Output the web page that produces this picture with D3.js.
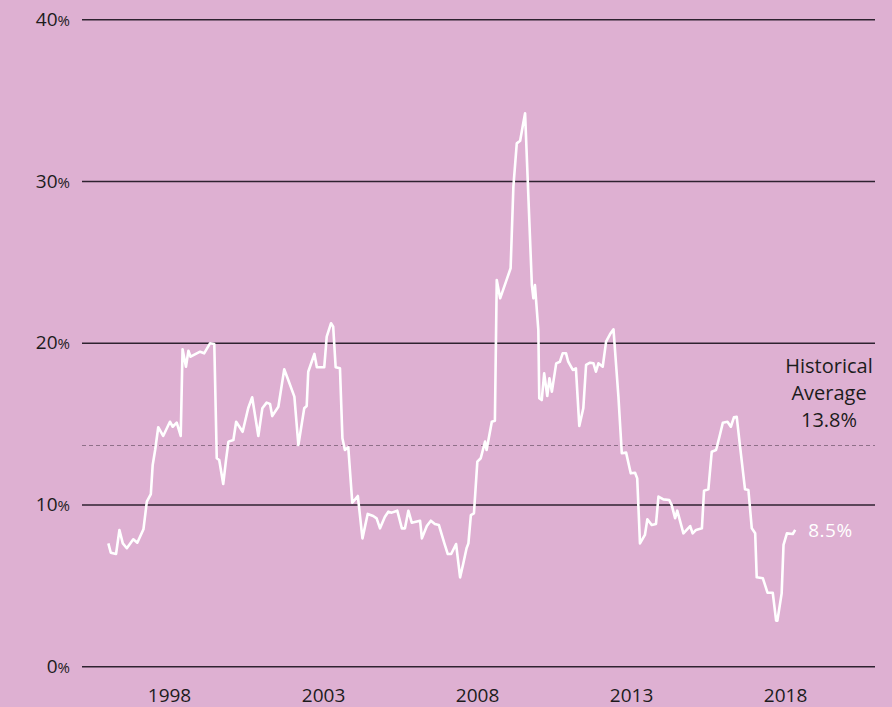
<!DOCTYPE html>
<html>
<head>
<meta charset="utf-8">
<script src="https://cdnjs.cloudflare.com/ajax/libs/d3/7.8.5/d3.min.js"></script>
<style>
  html, body { margin: 0; padding: 0; background: #deb0d2; }
  svg { display: block; }
  svg text { font-family: "Open Sans", "Noto Sans", sans-serif; }
  .grid line { stroke: #2e2230; stroke-width: 1.4; }
  .grid text { fill: #1c1c1c; font-size: 19px; }
  .xaxis text { fill: #1c1c1c; font-size: 19px; }
  .note { fill: #1c1c1c; font-size: 20px; text-anchor: middle; }
</style>
</head>
<body>
<svg class="chart" width="892" height="707"></svg>
<script>
// rate, %, by decimal year
var dates = [
  1996.03, 1996.11, 1996.28, 1996.39, 1996.50, 1996.63, 1996.84, 1996.97, 1997.17, 1997.28,
  1997.41, 1997.47, 1997.55, 1997.65, 1997.81, 1998.03, 1998.12, 1998.25, 1998.38, 1998.44,
  1998.55, 1998.63, 1998.70, 1999.01, 1999.14, 1999.33, 1999.47, 1999.55, 1999.63, 1999.76,
  1999.85, 1999.93, 2000.09, 2000.18, 2000.39, 2000.57, 2000.70, 2000.90, 2001.03, 2001.17,
  2001.28, 2001.35, 2001.55, 2001.74, 2001.85, 2002.07, 2002.20, 2002.39, 2002.47, 2002.52,
  2002.72, 2002.80, 2003.04, 2003.12, 2003.26, 2003.33, 2003.41, 2003.55, 2003.63, 2003.71,
  2003.82, 2003.95, 2004.13, 2004.28, 2004.45, 2004.63, 2004.74, 2004.85, 2005.01, 2005.12,
  2005.23, 2005.41, 2005.56, 2005.66, 2005.77, 2005.88, 2006.15, 2006.21, 2006.37, 2006.50,
  2006.63, 2006.76, 2006.94, 2007.05, 2007.16, 2007.32, 2007.45, 2007.55, 2007.66, 2007.72,
  2007.80, 2007.90, 2008.01, 2008.12, 2008.26, 2008.31, 2008.48, 2008.58, 2008.64, 2008.75,
  2008.94, 2009.09, 2009.18, 2009.29, 2009.40, 2009.50, 2009.56, 2009.78, 2009.83, 2009.88,
  2009.99, 2010.02, 2010.10, 2010.18, 2010.28, 2010.35, 2010.43, 2010.57, 2010.69, 2010.78,
  2010.89, 2010.96, 2011.11, 2011.21, 2011.32, 2011.45, 2011.54, 2011.67, 2011.78, 2011.86,
  2011.94, 2012.08, 2012.19, 2012.32, 2012.43, 2012.59, 2012.70, 2012.84, 2012.99, 2013.13,
  2013.20, 2013.29, 2013.45, 2013.53, 2013.67, 2013.81, 2013.89, 2014.05, 2014.24, 2014.32,
  2014.43, 2014.50, 2014.70, 2014.92, 2015.00, 2015.11, 2015.30, 2015.37, 2015.51, 2015.62,
  2015.76, 2015.87, 2015.98, 2016.13, 2016.24, 2016.34, 2016.43, 2016.54, 2016.70, 2016.81,
  2016.92, 2017.03, 2017.08, 2017.28, 2017.43, 2017.60, 2017.71, 2017.75, 2017.89, 2017.95,
  2018.06, 2018.25, 2018.33
];
var rates = [
   7.60,  7.02,  6.94,  8.43,  7.60,  7.30,  7.85,  7.64,  8.47, 10.18,
  10.65, 12.45, 13.37, 14.78, 14.24, 15.12, 14.81, 15.06, 14.24, 19.60,
  18.52, 19.51, 19.14, 19.45, 19.35, 19.97, 19.93, 12.86, 12.75, 11.27,
  12.75, 13.89, 13.99, 15.12, 14.50, 15.95, 16.63, 14.24, 15.95, 16.30,
  16.22, 15.47, 16.05, 18.36, 17.81, 16.67, 13.68, 15.95, 16.09, 18.21,
  19.31, 18.49, 18.49, 20.38, 21.21, 21.00, 18.49, 18.42, 14.10, 13.37,
  13.54, 10.11, 10.53,  7.91,  9.42,  9.29,  9.15,  8.53,  9.25,  9.56,
   9.50,  9.62,  8.53,  8.53,  9.62,  8.88,  9.00,  7.91,  8.67,  9.00,
   8.80,  8.74,  7.60,  6.94,  6.94,  7.56,  5.50,  6.32,  7.30,  7.60,
   9.35,  9.46, 12.65, 12.86, 13.89, 13.37, 15.12, 15.18, 23.88, 22.75,
  23.78, 24.61, 29.65, 32.33, 32.49, 33.57, 34.19, 23.57, 22.75, 23.57,
  20.79, 16.57, 16.46, 18.11, 16.71, 17.81, 16.98, 18.73, 18.83, 19.35,
  19.35, 18.83, 18.32, 18.42, 14.86, 15.95, 18.63, 18.77, 18.73, 18.21,
  18.73, 18.52, 20.07, 20.54, 20.83, 16.67, 13.17, 13.21, 11.93, 11.97,
  11.62,  7.60,  8.12,  9.09,  8.74,  8.80, 10.49, 10.32, 10.28,  9.97,
   9.15,  9.62,  8.22,  8.67,  8.22,  8.43,  8.53, 10.86, 10.94, 13.27,
  13.37, 14.19, 15.06, 15.12, 14.81, 15.39, 15.43, 13.58, 10.94, 10.90,
   8.53,  8.22,  5.50,  5.44,  4.55,  4.55,  2.82,  2.82,  4.51,  7.50,
   8.22,  8.18,  8.43
];
var yTicks = [0, 10, 20, 30, 40];
var xTicks = [1998, 2003, 2008, 2013, 2018];
var averageLine = 13.65;
var averageNote = ["Historical", "Average", "13.8%"];
var latestNote = "8.5%";

(function() {
  var svg = d3.select(".chart");

  var xScale = d3.scaleLinear()
    .domain([1995.175, 2020.92])
    .range([82, 875]);

  var yScale = d3.scaleLinear()
    .domain([0, 40])
    .range([666.3, 19.3]);

  // gridlines + y labels
  var yAxis = d3.axisLeft(yScale)
    .tickValues(yTicks)
    .tickSize(-(xScale.range()[1] - xScale.range()[0]))
    .tickPadding(12)
    .tickFormat(function(d) { return d; });

  var gy = svg.append("g")
    .attr("class", "grid")
    .attr("transform", "translate(" + xScale.range()[0] + ",0)")
    .call(yAxis);
  gy.attr("font-family", null);
  gy.select(".domain").remove();
  gy.selectAll(".tick text")
    .append("tspan")
    .style("font-size", "15px")
    .text("%");

  // x labels only
  var xAxis = d3.axisBottom(xScale)
    .tickValues(xTicks)
    .tickSize(0)
    .tickPadding(0)
    .tickFormat(d3.format("d"));

  var gx = svg.append("g")
    .attr("class", "xaxis")
    .attr("transform", "translate(0,688)")
    .call(xAxis);
  gx.attr("font-family", null);
  gx.select(".domain").remove();

  // historical average
  svg.append("line")
    .attr("x1", xScale.range()[0])
    .attr("x2", xScale.range()[1])
    .attr("y1", yScale(averageLine))
    .attr("y2", yScale(averageLine))
    .attr("stroke", "#8f7089")
    .attr("stroke-width", 1.2)
    .attr("stroke-dasharray", "4,3");

  svg.selectAll(".note")
    .data(averageNote)
    .enter().append("text")
    .attr("class", "note")
    .attr("x", xScale.range()[1] - 46)
    .attr("y", function(d, i) { return yScale(averageLine) - 73 + i * 27; })
    .text(function(d) { return d; });

  var data = dates.map(function(d, i) { return {date: d, rate: rates[i]}; });

  var line = d3.line()
    .x(function(d) { return xScale(d.date); })
    .y(function(d) { return yScale(d.rate); });

  svg.append("path")
    .datum(data)
    .attr("fill", "none")
    .attr("stroke", "#ffffff")
    .attr("stroke-width", 2.6)
    .attr("stroke-linejoin", "round")
    .attr("d", line);

  var last = data[data.length - 1];
  svg.append("text")
    .attr("x", xScale(last.date) + 13)
    .attr("y", yScale(last.rate))
    .attr("dy", ".36em")
    .attr("fill", "#ffffff")
    .style("font-size", "19px")
    .style("letter-spacing", "0.5px")
    .text(latestNote);
})();
</script>
</body>
</html>
